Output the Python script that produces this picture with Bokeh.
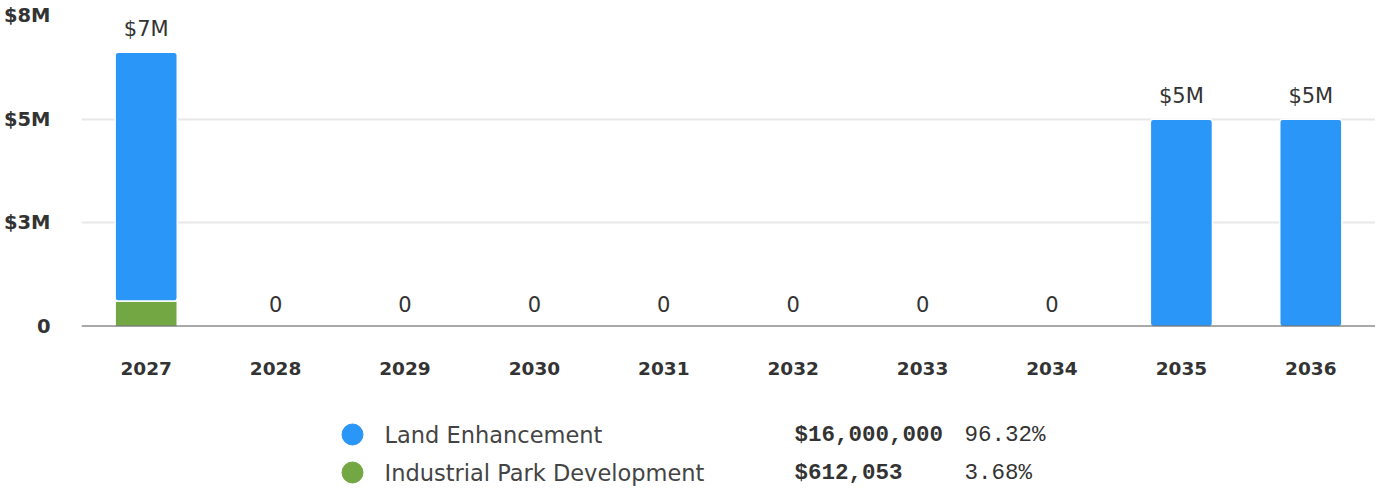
from bokeh.plotting import figure
from bokeh.models import ColumnDataSource, Range1d, FixedTicker, CustomJSTickFormatter, Span
from bokeh.layouts import column
from bokeh.core.properties import value
from bokeh.embed import file_html
from bokeh.resources import INLINE

years = ["2027", "2028", "2029", "2030", "2031", "2032", "2033", "2034", "2035", "2036"]
land_enhancement = [6000000, 0, 0, 0, 0, 0, 0, 0, 5000000, 5000000]
industrial_park = [612053, 0, 0, 0, 0, 0, 0, 0, 0, 0]
series_names = ["Land Enhancement", "Industrial Park Development"]
series_colors = ["#2996F8", "#72A743"]
y_ticks = [0, 2500000, 5000000, 7500000]

FONT = "DejaVu Sans"
MONO = "Liberation Mono"
TXT = "#333333"

FRAME_L, FRAME_R = 81, 1375

totals = [a + b for a, b in zip(land_enhancement, industrial_park)]
def fmt(v):
    return "0" if v == 0 else "$%dM" % round(v / 1e6)
labels = [fmt(v) for v in totals]

src = ColumnDataSource(dict(year=years, land=land_enhancement, ind=industrial_park,
                            total=totals, label=labels))

p = figure(x_range=years, y_range=Range1d(0, 7500000), width=FRAME_R, height=408,
           output_backend="svg", toolbar_location=None,
           min_border_left=FRAME_L, min_border_right=0, min_border_top=15, min_border_bottom=82)
p.outline_line_color = None
p.background_fill_color = "white"
p.xgrid.grid_line_color = None
p.ygrid.grid_line_color = "#E8E8E8"
p.ygrid.grid_line_width = 2
p.yaxis.ticker = FixedTicker(ticks=y_ticks)
p.yaxis.formatter = CustomJSTickFormatter(code="return tick == 0 ? '0' : '$' + Math.round(tick/1e6) + 'M';")
for ax in (p.xaxis, p.yaxis):
    ax.axis_line_color = None
    ax.major_tick_line_color = None
    ax.minor_tick_line_color = None
    ax.major_label_text_font = FONT
    ax.major_label_text_font_style = "bold"
    ax.major_label_text_color = TXT
p.yaxis.major_label_text_font_size = "19.5px"
p.xaxis.major_label_text_font_size = "18.5px"
p.yaxis.major_label_standoff = 25
p.xaxis.major_label_standoff = 29

p.vbar_stack(["ind", "land"], x="year", width=0.48, source=src,
             color=[series_colors[1], series_colors[0]], line_color="white", line_width=1.5,
             border_radius=[0, 3])

p.add_layout(Span(location=0, dimension="width", line_color="#555555", line_width=2))

p.text(x="year", y="total", text="label", source=src, text_align="center",
       text_baseline="alphabetic", y_offset=-23, text_font=value(FONT),
       text_font_size="21px", text_color=TXT)

# legend figure (frame aligned with chart frame; x data in page pixels)
lg = figure(width=FRAME_R, height=78, x_range=Range1d(FRAME_L, FRAME_R), y_range=Range1d(78, 0),
            output_backend="svg", toolbar_location=None,
            min_border_left=FRAME_L, min_border_right=0, min_border_top=0, min_border_bottom=0)
lg.axis.visible = False
lg.grid.grid_line_color = None
lg.outline_line_color = None

series_totals = [sum(land_enhancement), sum(industrial_park)]
grand = sum(series_totals)
rows = list(range(len(series_names)))
row_y = [26 + 38 * i for i in rows]
lsrc = ColumnDataSource(dict(
    y=row_y,
    name=series_names,
    color=series_colors,
    amt=["${:,}".format(v) for v in series_totals],
    pct=["%.2f%%" % (100.0 * v / grand) for v in series_totals],
    cx=[352] * len(rows), nx=[384] * len(rows), ax=[794] * len(rows), px=[964] * len(rows),
))
lg.scatter(x="cx", y="y", size=21, color="color", source=lsrc)
lg.text(x="nx", y="y", text="name", source=lsrc, text_baseline="middle",
        text_font=value(FONT), text_font_size="22.5px", text_color="#444444")
lg.text(x="ax", y="y", text="amt", source=lsrc, text_baseline="middle",
        text_font=value(MONO), text_font_style="bold", text_font_size="22.5px", text_color=TXT)
lg.text(x="px", y="y", text="pct", source=lsrc, text_baseline="middle",
        text_font=value(MONO), text_font_size="22.5px", text_color=TXT)

layout = column(p, lg, spacing=0)
open("out.html", "w").write(file_html(layout, INLINE))
